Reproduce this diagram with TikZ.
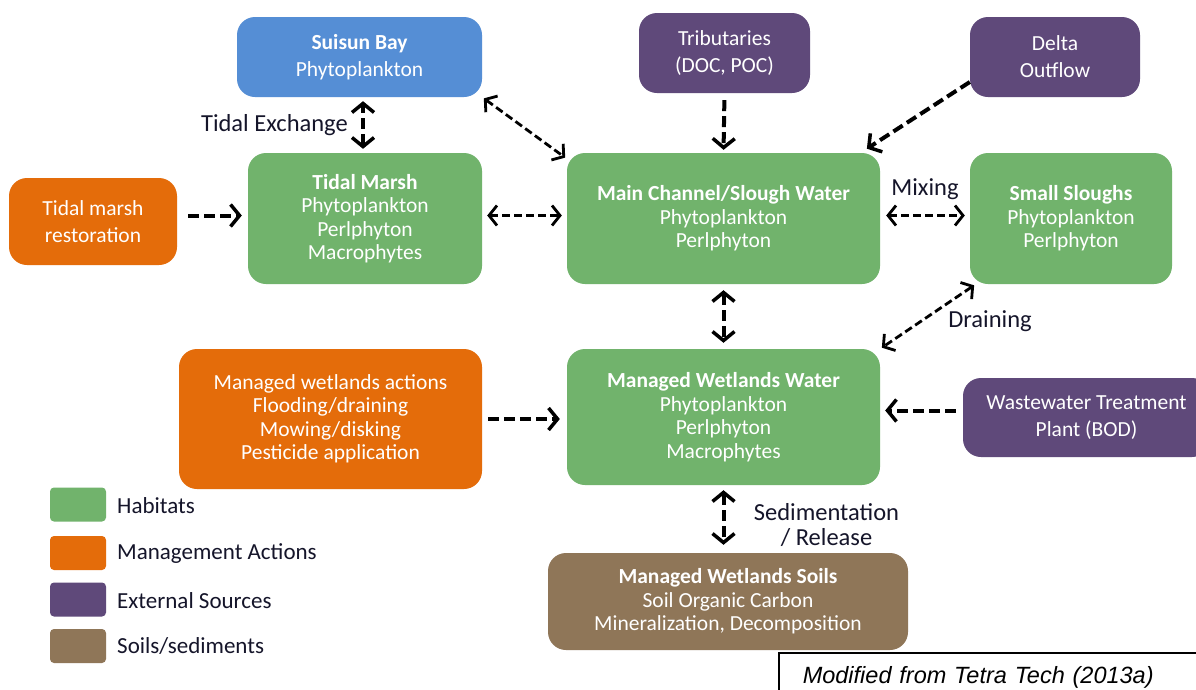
\documentclass[tikz,border=0pt]{standalone}
\usepackage{fontspec}
\setmainfont{Carlito}
\newfontfamily\capfont{Liberation Sans}
\usetikzlibrary{arrows.meta,calc}
\definecolor{hab}{HTML}{71B36C}
\definecolor{mgmt}{HTML}{E46C0A}
\definecolor{ext}{HTML}{5F497A}
\definecolor{soil}{HTML}{8F7658}
\definecolor{bay}{HTML}{558ED5}
\definecolor{lbl}{HTML}{15152A}
\begin{document}
\begin{tikzpicture}[x=1pt,y=-1pt,
  box/.style={rounded corners=18pt, text=white, align=center, inner sep=0pt,
    font=\fontsize{21.5}{23.5}\selectfont},
  two/.style={font=\fontsize{21.5}{27}\selectfont},
  hab/.style={box, fill=hab},
  mgmt/.style={box, fill=mgmt},
  ext/.style={box, fill=ext},
  soil/.style={box, fill=soil},
  bay/.style={box, fill=bay},
  lab/.style={text=lbl, inner sep=0pt, font=\fontsize{24.5}{25}\selectfont},
  leg/.style={rounded corners=4pt, minimum width=56pt, minimum height=34pt, inner sep=0pt},
  legtxt/.style={text=lbl, inner sep=0pt, anchor=west, font=\fontsize{23}{24}\selectfont},
  thk/.style={line width=4pt, dash pattern=on 11pt off 5pt,
    arrows={-Straight Barb[length=9pt,width=22pt,line width=3.5pt]}},
  thkd/.style={thk, arrows={Straight Barb[length=9pt,width=22pt,line width=3.5pt]-Straight Barb[length=9pt,width=22pt,line width=3.5pt]}},
  thn/.style={line width=2.8pt, dash pattern=on 8pt off 4pt,
    arrows={-Straight Barb[length=8pt,width=20pt,line width=2.8pt]}},
  thnd/.style={thn, arrows={Straight Barb[length=8pt,width=20pt,line width=2.8pt]-Straight Barb[length=8pt,width=20pt,line width=2.8pt]}},
]
\useasboundingbox (0,0) rectangle (1196,689);
\fill[white] (0,0) rectangle (1196,689);

% boxes
\node[bay, two, minimum width=245pt, minimum height=80pt] (suisun) at (359.5,57) {\textbf{Suisun Bay}\\Phytoplankton};
\node[ext, two, minimum width=171pt, minimum height=80pt] (trib) at (724.5,53) {Tributaries\\(DOC, POC)};
\node[ext, two, minimum width=170pt, minimum height=80pt] (delta) at (1055,57) {Delta\\Outflow};
\node[mgmt, two, minimum width=168pt, minimum height=87pt] (tmr) at (93,221.5) {Tidal marsh\\restoration};
\node[hab, minimum width=234pt, minimum height=131pt] (tm) at (365,218.5) {\textbf{Tidal Marsh}\\Phytoplankton\\Perlphyton\\Macrophytes};
\node[hab, minimum width=313pt, minimum height=131pt] (mc) at (723.5,218.5) {\textbf{Main Channel/Slough Water}\\Phytoplankton\\Perlphyton};
\node[hab, minimum width=202pt, minimum height=131pt] (ss) at (1071,218.5) {\textbf{Small Sloughs}\\Phytoplankton\\Perlphyton};
\node[mgmt, minimum width=303pt, minimum height=140pt] (mwa) at (330.5,419) {Managed wetlands actions\\Flooding/draining\\Mowing/disking\\Pesticide application};
\node[hab, minimum width=313pt, minimum height=136pt] (mww) at (723.5,417) {\textbf{Managed Wetlands Water}\\Phytoplankton\\Perlphyton\\Macrophytes};
\node[ext, two, minimum width=247pt, minimum height=79pt] (wwtp) at (1086.5,417.5) {Wastewater Treatment\\Plant (BOD)};
\node[soil, minimum width=360pt, minimum height=97pt] (soils) at (728,601.5) {\textbf{Managed Wetlands Soils}\\Soil Organic Carbon\\Mineralization, Decomposition};

% connectors
\draw[thkd, shorten <=4pt, shorten >=4pt] ([xshift=-2pt]tm.north) -- ([xshift=3.5pt]suisun.south);
\draw[thnd, shorten <=2pt, shorten >=2pt] (suisun.south east) -- ([yshift=-6pt]mc.north west);
\draw[thk, shorten <=7pt, shorten >=3pt] (trib.south) -- (mc.north);
\draw[thk, shorten >=2pt] ([yshift=-25pt]delta.west) -- ([xshift=-15pt,yshift=3pt]mc.north east);
\draw[thk, shorten <=11pt, shorten >=6pt] ([yshift=6pt]tmr.east) -- ([yshift=6pt]tmr.east -| tm.west);
\draw[thnd, shorten <=5pt, shorten >=5pt] ([yshift=3pt]tm.east) -- ([yshift=3pt]mc.west);
\draw[thnd, shorten <=6pt, shorten >=5pt] ([yshift=3pt]mc.east) -- ([yshift=3pt]ss.west);
\draw[thkd, shorten <=6pt, shorten >=6pt] (mc.south) -- (mww.north);
\draw[thnd, shorten <=2pt, shorten >=2pt] ([xshift=6pt]ss.south west) -- (mww.north east);
\draw[thk, shorten <=6pt, shorten >=7pt] (mwa.east) -- (mwa.east -| mww.west);
\draw[thk, shorten <=7pt, shorten >=5pt] ([yshift=7pt]wwtp.west) -- ([yshift=7pt]wwtp.west -| mww.east);
\draw[thkd, shorten <=5pt, shorten >=8pt] (mww.south) -- (mww.south |- soils.north);

% labels
\node[lab, anchor=east] (lte) at (348,125) {Tidal Exchange};
\node[lab] (lmix) at (925,189) {Mixing};
\node[lab] (ldr) at (990,321) {Draining};
\node[lab, align=center, font=\fontsize{24.5}{25}\selectfont] (lsed) at (826.5,525) {Sedimentation\\/ Release};

% legend
\node[leg, fill=hab] (lg1) at (78,504.5) {};
\node[leg, fill=mgmt] (lg2) at (78,553) {};
\node[leg, fill=ext] (lg3) at (78,599.5) {};
\node[leg, fill=soil] (lg4) at (78,646) {};
\node[legtxt] (lt1) at (117,506) {Habitats};
\node[legtxt] (lt2) at (117,554) {Management Actions};
\node[legtxt] (lt3) at (117,601) {External Sources};
\node[legtxt] (lt4) at (117,646) {Soils/sediments};

% caption
\node[draw=black, line width=1.5pt, anchor=north west, minimum width=440pt, minimum height=50pt,
  inner xsep=24pt, inner ysep=0pt, text width=392pt, align=left,
  font=\capfont\itshape\fontsize{23.5}{26}\selectfont] (cap) at (778,652) {Modified from Tetra Tech (2013a)};
\end{tikzpicture}
\end{document}
